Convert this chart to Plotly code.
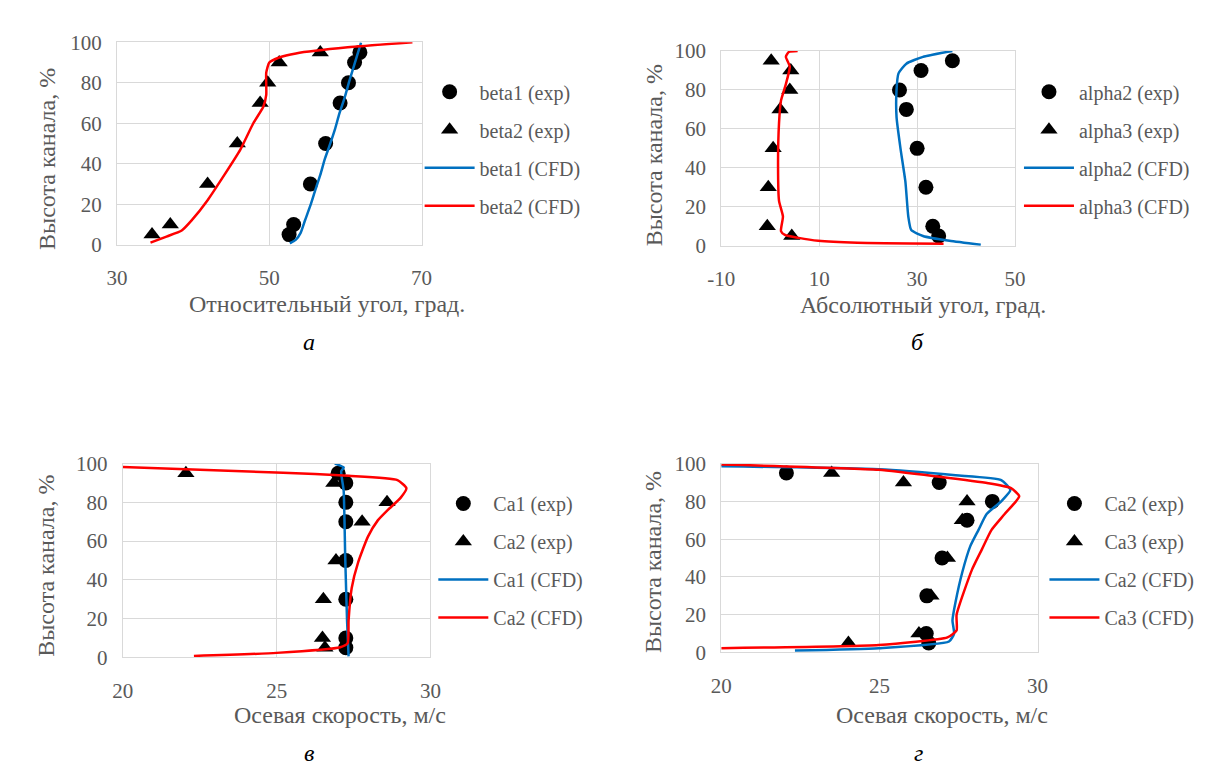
import plotly.graph_objects as go

FONT = "Liberation Serif, Times New Roman, serif"
GRAY = "#595959"
GRID = "#d9d9d9"
BLUE = "#0070C0"
RED = "#FF0000"
W, H = 1210, 764

# ---------------- data ----------------
# panel a
h_exp = [5, 10, 30, 50, 70, 80, 90, 95]
beta1_exp = [52.6, 53.2, 55.4, 57.4, 59.3, 60.4, 61.2, 61.9]
beta2_exp = [34.6, 37.0, 41.9, 45.8, 48.8, 49.8, 51.3, 56.7]
beta1_cfd_h = [0.7, 2.5, 5.7, 12.1, 19.4, 26.5, 34.5, 42.4, 48.8, 56.7, 64.7, 72.7, 80.7, 88.7, 99.8]
beta1_cfd = [52.7, 53.5, 54.1, 54.7, 55.4, 56.0, 56.7, 57.3, 57.9, 58.6, 59.2, 59.9, 60.5, 61.15, 62.05]
beta2_cfd_h = [1, 4, 7, 12, 22, 34.5, 47, 60, 68, 74, 85, 90, 92.5, 94.5, 97.5, 100]
beta2_cfd = [34.4, 36.5, 38.5, 39.8, 41.9, 44.1, 46.2, 47.9, 49.2, 49.6, 49.6, 50.0, 51.3, 53.5, 60.3, 68.8]

# panel b
alpha2_exp = [34.4, 33.2, 31.8, 30.0, 27.8, 26.4, 30.8, 37.2]
alpha3_exp = [4.4, -0.6, -0.4, 0.6, 2.0, 4.0, 4.2, 0.2]
alpha2_cfd_h = [0.5, 2.5, 5, 8, 15, 33, 50, 66, 80, 88.5, 93.5, 97, 100]
alpha2_cfd = [43.0, 36.6, 31.2, 28.8, 28.2, 27.6, 26.6, 25.8, 25.8, 26.2, 27.8, 31.2, 37.2]
alpha3_cfd_h = [1, 1.5, 2.5, 4, 5.5, 7.5, 15, 23, 41, 63, 74.5, 83, 92, 97, 99.5, 100]
alpha3_cfd = [35.4, 17.8, 9.8, 5.8, 3.0, 2.2, 2.6, 1.8, 1.6, 1.8, 2.2, 3.2, 4.0, 3.2, 3.8, 5.6]
alpha_ticks = [-10, 10, 30, 50]
alpha_ticktext = ["-10", "10", "30", "50"]

# panel v
ca1_exp = [27.25, 27.25, 27.25, 27.25, 27.25, 27.25, 27.25, 27.0]
ca2_exp = [26.57, 26.49, 26.52, 26.93, 27.78, 28.59, 26.86, 22.05]
ca1_cfd_h = [0.5, 19, 52, 86, 96, 98, 100]
ca1_cfd = [27.34, 27.29, 27.23, 27.18, 27.1, 27.18, 26.89]
ca2v_cfd_h = [0.7, 2.3, 5.2, 7.3, 19, 35.7, 49, 62.3, 70.7, 76, 82.3, 87.3, 91.5, 93.7, 95.3, 98.2]
ca2v_cfd = [22.31, 25.0, 27.07, 27.31, 27.34, 27.44, 27.65, 27.97, 28.29, 28.61, 29.03, 29.22, 28.93, 27.34, 25.21, 20.0]

# panel g
ca2g_exp = [26.56, 26.48, 26.50, 26.98, 27.77, 28.57, 26.89, 22.06]
ca3_exp = [24.02, 26.25, 26.63, 27.15, 27.62, 27.77, 25.76, 23.49]
ca2g_cfd_h = [1, 2.3, 5.8, 10, 17, 27, 42.5, 56.2, 64.8, 73.3, 80, 86, 91.3, 93.8, 97, 98.6]
ca2g_cfd = [22.33, 24.98, 27.2, 27.36, 27.31, 27.41, 27.62, 27.87, 28.13, 28.39, 28.85, 29.14, 28.85, 27.41, 24.98, 20.0]
ca3_cfd_h = [2.3, 4.0, 8, 11.7, 20, 44, 54.6, 64.8, 73.3, 82.7, 87, 89.6, 93, 96.7, 99.5]
ca3_cfd = [20.0, 24.98, 27.15, 27.44, 27.44, 27.93, 28.24, 28.54, 28.96, 29.42, 29.16, 28.44, 26.89, 24.98, 20.0]

x_titles = ["Относительный угол, град.", "Абсолютный угол, град.",
            "Осевая скорость, м/с", "Осевая скорость, м/с"]
y_title = "Высота канала, %"
captions = ["а", "б", "в", "г"]

panels = [
    dict(exp=[("beta1 (exp)", beta1_exp, h_exp), ("beta2 (exp)", beta2_exp, h_exp)],
         cfd=[("beta1 (CFD)", beta1_cfd, beta1_cfd_h), ("beta2 (CFD)", beta2_cfd, beta2_cfd_h)],
         xr=[30, 70], dt=20, px=[97, 408], py=[23, 232], leg=(406, 54)),
    dict(exp=[("alpha2 (exp)", alpha2_exp, h_exp), ("alpha3 (exp)", alpha3_exp, h_exp)],
         cfd=[("alpha2 (CFD)", alpha2_cfd, alpha2_cfd_h), ("alpha3 (CFD)", alpha3_cfd, alpha3_cfd_h)],
         xr=[-10, 50], dt=20, px=[714, 1014], py=[32, 233], leg=(1018, 54),
         tv=alpha_ticks, tt=alpha_ticktext),
    dict(exp=[("Ca1 (exp)", ca1_exp, h_exp), ("Ca2 (exp)", ca2_exp, h_exp)],
         cfd=[("Ca1 (CFD)", ca1_cfd, ca1_cfd_h), ("Ca2 (CFD)", ca2v_cfd, ca2v_cfd_h)],
         xr=[20, 30], dt=5, px=[103, 417], py=[458, 658], leg=(420, 479)),
    dict(exp=[("Ca2 (exp)", ca2g_exp, h_exp), ("Ca3 (exp)", ca3_exp, h_exp)],
         cfd=[("Ca2 (CFD)", ca2g_cfd, ca2g_cfd_h), ("Ca3 (CFD)", ca3_cfd, ca3_cfd_h)],
         xr=[20, 30], dt=5, px=[714, 1037], py=[458, 653], leg=(1044, 479)),
]
xt_pos = [(311, 293), (920, 294), (325, 718), (939, 718)]
yt_pos = [(25, 143), (645, 140), (25, 563), (645, 560)]
cap_pos = [(293, 332), (914, 332), (293, 757), (915, 757)]

fig = go.Figure()
layout = dict(width=W, height=H, margin=dict(l=0, r=0, t=0, b=0),
              paper_bgcolor="white", plot_bgcolor="white", showlegend=True,
              font=dict(family=FONT, color=GRAY))
annotations = []

for i, p in enumerate(panels):
    n = "" if i == 0 else str(i + 1)
    xa, ya, lg = "x" + n, "y" + n, "legend" + n
    syms = ["circle", "triangle-up"]
    sizes = [15, 15]
    for k, (name, xs, hs) in enumerate(p["exp"]):
        fig.add_trace(go.Scatter(x=xs, y=hs, mode="markers", name=name,
                                 marker=dict(symbol=syms[k], size=sizes[k], color="black"),
                                 xaxis=xa, yaxis=ya, legend=lg, legendgroup=f"g{i}{k}"))
    cols = [BLUE, RED]
    for k, (name, xs, hs) in enumerate(p["cfd"]):
        fig.add_trace(go.Scatter(x=xs, y=hs, mode="lines", name=name,
                                 line=dict(color=cols[k], width=2.5, shape="spline", smoothing=0.5),
                                 xaxis=xa, yaxis=ya, legend=lg, legendgroup=f"c{i}{k}"))
    common = dict(showgrid=True, gridcolor=GRID, gridwidth=1.3, showline=True,
                  linecolor=GRID, linewidth=1.3, mirror=True, zeroline=False, ticks="",
                  tickfont=dict(family=FONT, size=21, color=GRAY), fixedrange=True)
    xax = dict(common, domain=[p["px"][0] / W, p["px"][1] / W],
               range=p["xr"], dtick=p["dt"], tick0=p["xr"][0],
               anchor=ya, ticklabelstandoff=14)
    if "tv" in p:
        xax.update(tickmode="array", tickvals=p["tv"], ticktext=p["tt"])
    layout["xaxis" + n] = xax
    layout["yaxis" + n] = dict(common, domain=[1 - p["py"][1] / H, 1 - p["py"][0] / H],
                               range=[0, 100], dtick=20, anchor=xa, ticklabelstandoff=10)
    layout[lg] = dict(x=p["leg"][0] / W, y=1 - p["leg"][1] / H, xanchor="left", yanchor="top",
                      font=dict(family=FONT, size=20, color=GRAY), tracegroupgap=9,
                      bgcolor="rgba(0,0,0,0)", itemwidth=50)
    annotations.append(dict(text=x_titles[i], x=xt_pos[i][0] / W, y=1 - xt_pos[i][1] / H,
                            xref="paper", yref="paper", showarrow=False,
                            xanchor="center", yanchor="middle",
                            font=dict(family=FONT, size=24, color=GRAY)))
    annotations.append(dict(text=y_title, x=yt_pos[i][0] / W, y=1 - yt_pos[i][1] / H,
                            xref="paper", yref="paper", showarrow=False, textangle=-90,
                            xanchor="center", yanchor="middle",
                            font=dict(family=FONT, size=24, color=GRAY)))
    annotations.append(dict(text=captions[i], x=cap_pos[i][0] / W, y=1 - cap_pos[i][1] / H,
                            xref="paper", yref="paper", showarrow=False,
                            xanchor="center", yanchor="middle",
                            font=dict(family=FONT, size=24, color="black", style="italic")))

layout["annotations"] = annotations
fig.update_layout(**layout)
fig.write_html("out.html")
